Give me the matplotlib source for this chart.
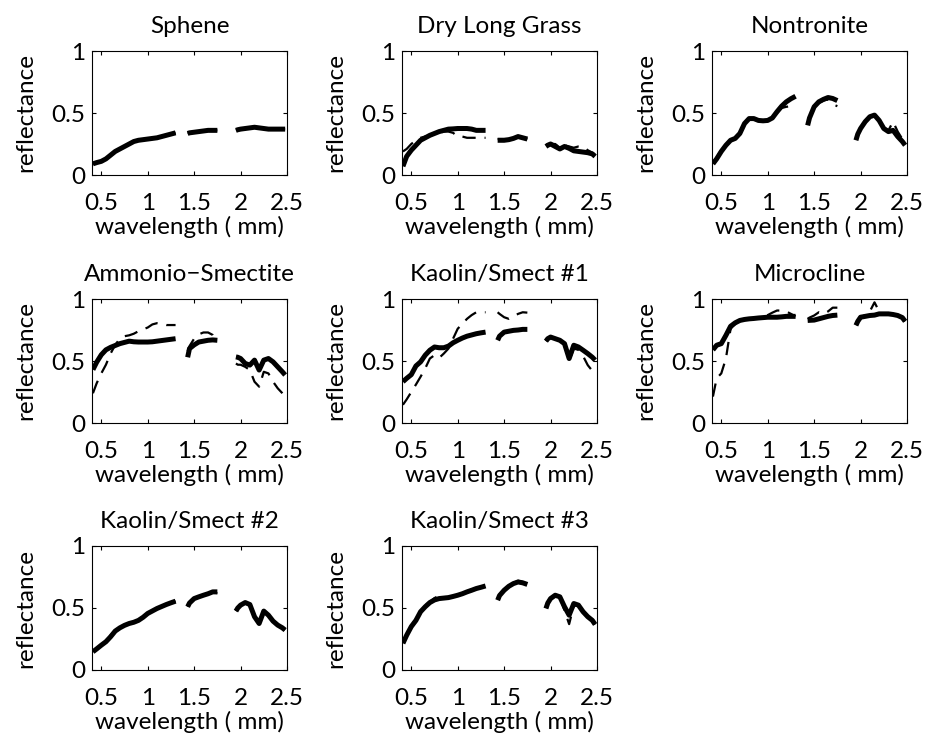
import numpy as np
import matplotlib
matplotlib.use("Agg")
import matplotlib.pyplot as plt

plt.rcParams['font.family'] = ['Lato', 'DejaVu Sans']

nan = np.nan
# wavelength grid (um), nan marks the water-band gaps
wl = [0.41, 0.45, 0.50, 0.55, 0.60, 0.65, 0.70, 0.75, 0.80, 0.85, 0.90, 0.95, 1.00, 1.05, 1.10, 1.15, 1.20, 1.25, 1.30, 1.33, nan,
      1.43, 1.45, 1.50, 1.55, 1.60, 1.65, 1.70, 1.75, nan,
      1.95, 1.97, 2.00, 2.05, 2.10, 2.15, 2.20, 2.25, 2.30, 2.35, 2.40, 2.45, 2.48]

names = ["Sphene", "Dry Long Grass", "Nontronite", "Ammonio\u2212Smectite",
         "Kaolin/Smect #1", "Microcline", "Kaolin/Smect #2", "Kaolin/Smect #3"]

sphene_true = [0.09, 0.10, 0.11, 0.13, 0.16, 0.19, 0.21, 0.23, 0.25, 0.27, 0.28, 0.285, 0.29, 0.295, 0.30, 0.31, 0.32, 0.33, 0.34, nan, nan,
               0.335, 0.34, 0.345, 0.35, 0.355, 0.36, 0.36, 0.36, nan,
               0.36, 0.365, 0.37, 0.375, 0.38, 0.385, 0.38, 0.375, 0.37, 0.37, 0.37, 0.37, 0.37]
sphene_est = [0.09, 0.10, 0.11, 0.13, 0.16, 0.19, 0.21, 0.23, 0.25, 0.27, 0.28, 0.285, 0.29, 0.295, 0.30, 0.31, 0.32, 0.33, 0.34, nan, nan,
              0.335, 0.34, 0.345, 0.35, 0.355, 0.36, 0.36, 0.36, nan,
              0.36, 0.365, 0.37, 0.375, 0.38, 0.385, 0.38, 0.375, 0.37, 0.37, 0.37, 0.37, 0.37]

grass_true = [0.07, 0.15, 0.20, 0.24, 0.28, 0.30, 0.32, 0.335, 0.35, 0.36, 0.37, 0.372, 0.375, 0.375, 0.375, 0.37, 0.36, 0.36, 0.36, nan, nan,
              0.28, 0.28, 0.28, 0.285, 0.295, 0.31, 0.30, 0.29, nan,
              0.23, 0.24, 0.25, 0.23, 0.21, 0.23, 0.215, 0.195, 0.19, 0.185, 0.18, 0.17, 0.15]
grass_est = [0.19, 0.21, 0.25, 0.28, 0.30, 0.31, 0.32, 0.33, 0.34, 0.35, 0.35, 0.34, 0.31, 0.31, 0.30, 0.30, 0.30, 0.30, 0.30, nan, nan,
             0.29, 0.29, 0.29, 0.29, 0.30, 0.31, 0.30, 0.29, nan,
             0.24, 0.25, 0.25, 0.25, 0.22, 0.24, 0.23, 0.22, 0.23, 0.23, 0.20, 0.18, 0.16]

nontr_true = [0.09, 0.13, 0.19, 0.24, 0.28, 0.295, 0.335, 0.415, 0.455, 0.455, 0.44, 0.437, 0.44, 0.46, 0.51, 0.555, 0.59, 0.615, 0.635, nan, nan,
              0.40, 0.46, 0.55, 0.59, 0.61, 0.625, 0.617, 0.60, nan,
              0.28, 0.33, 0.375, 0.43, 0.47, 0.483, 0.44, 0.375, 0.35, 0.36, 0.31, 0.27, 0.24]
nontr_est = [0.10, 0.14, 0.20, 0.24, 0.28, 0.30, 0.34, 0.42, 0.455, 0.45, 0.44, 0.437, 0.44, 0.46, 0.50, 0.54, 0.55, 0.555, 0.56, nan, nan,
             0.41, 0.47, 0.55, 0.58, 0.60, 0.61, 0.57, 0.555, nan,
             0.29, 0.33, 0.375, 0.43, 0.47, 0.48, 0.44, 0.38, 0.36, 0.43, 0.35, 0.29, 0.25]

ammon_true = [0.43, 0.49, 0.55, 0.59, 0.61, 0.625, 0.64, 0.65, 0.66, 0.655, 0.653, 0.653, 0.653, 0.655, 0.66, 0.665, 0.67, 0.675, 0.68, nan, nan,
              0.53, 0.60, 0.63, 0.653, 0.66, 0.667, 0.67, 0.667, nan,
              0.533, 0.53, 0.52, 0.48, 0.467, 0.507, 0.427, 0.507, 0.52, 0.493, 0.453, 0.413, 0.387]
ammon_est = [0.24, 0.32, 0.40, 0.47, 0.56, 0.63, 0.68, 0.70, 0.707, 0.72, 0.74, 0.755, 0.77, 0.795, 0.805, 0.80, 0.79, 0.79, 0.79, nan, nan,
             0.58, 0.62, 0.68, 0.715, 0.73, 0.73, 0.71, 0.65, nan,
             0.48, 0.47, 0.47, 0.453, 0.427, 0.333, 0.293, 0.413, 0.40, 0.333, 0.28, 0.24, 0.213]

kao1_true = [0.333, 0.36, 0.39, 0.46, 0.493, 0.547, 0.587, 0.613, 0.607, 0.607, 0.62, 0.647, 0.667, 0.685, 0.70, 0.71, 0.72, 0.727, 0.733, nan, nan,
             0.667, 0.70, 0.733, 0.74, 0.747, 0.75, 0.755, 0.755, nan,
             0.66, 0.68, 0.693, 0.68, 0.667, 0.64, 0.52, 0.627, 0.613, 0.587, 0.56, 0.53, 0.507]
kao1_est = [0.147, 0.19, 0.25, 0.31, 0.373, 0.44, 0.52, 0.547, 0.525, 0.56, 0.60, 0.68, 0.76, 0.80, 0.84, 0.87, 0.893, 0.893, 0.893, nan, nan,
            0.893, 0.88, 0.853, 0.84, 0.86, 0.88, 0.893, 0.89, nan,
            0.66, 0.68, 0.69, 0.68, 0.66, 0.63, 0.50, 0.60, 0.59, 0.54, 0.467, 0.42, 0.373]

micro_true = [0.59, 0.627, 0.64, 0.707, 0.78, 0.808, 0.827, 0.835, 0.84, 0.843, 0.847, 0.85, 0.853, 0.853, 0.853, 0.856, 0.86, 0.86, 0.86, nan, nan,
              0.827, 0.828, 0.83, 0.84, 0.85, 0.86, 0.867, 0.87, nan,
              0.787, 0.82, 0.853, 0.86, 0.867, 0.87, 0.88, 0.88, 0.88, 0.875, 0.867, 0.85, 0.82]
micro_est = [0.213, 0.36, 0.40, 0.52, 0.76, 0.80, 0.82, 0.83, 0.84, 0.845, 0.85, 0.86, 0.87, 0.89, 0.907, 0.907, 0.90, 0.88, 0.86, nan, nan,
             0.84, 0.85, 0.867, 0.893, 0.88, 0.90, 0.93, 0.93, nan,
             0.79, 0.82, 0.85, 0.87, 0.90, 0.973, 0.90, 0.88, 0.88, 0.875, 0.867, 0.85, 0.82]

kao2_true = [0.147, 0.17, 0.20, 0.228, 0.268, 0.314, 0.34, 0.36, 0.375, 0.385, 0.40, 0.425, 0.456, 0.476, 0.496, 0.512, 0.528, 0.542, 0.555, nan, nan,
             0.51, 0.54, 0.576, 0.59, 0.603, 0.615, 0.63, 0.63, nan,
             0.475, 0.50, 0.523, 0.544, 0.528, 0.43, 0.375, 0.475, 0.442, 0.394, 0.362, 0.34, 0.322]
kao2_est = [0.15, 0.17, 0.20, 0.23, 0.28, 0.32, 0.345, 0.36, 0.375, 0.385, 0.40, 0.425, 0.456, 0.476, 0.496, 0.512, 0.528, 0.542, 0.555, nan, nan,
            0.51, 0.54, 0.576, 0.59, 0.603, 0.615, 0.625, 0.62, nan,
            0.475, 0.50, 0.523, 0.544, 0.528, 0.43, 0.38, 0.475, 0.442, 0.394, 0.362, 0.34, 0.322]

kao3_true = [0.215, 0.28, 0.35, 0.40, 0.47, 0.51, 0.544, 0.565, 0.576, 0.58, 0.584, 0.593, 0.603, 0.615, 0.63, 0.643, 0.657, 0.667, 0.678, nan, nan,
             0.563, 0.60, 0.643, 0.675, 0.697, 0.71, 0.703, 0.69, nan,
             0.496, 0.54, 0.576, 0.603, 0.59, 0.51, 0.442, 0.536, 0.523, 0.47, 0.43, 0.40, 0.367]
kao3_est = [0.22, 0.29, 0.36, 0.41, 0.47, 0.52, 0.55, 0.58, 0.60, 0.59, 0.584, 0.595, 0.605, 0.62, 0.635, 0.65, 0.66, 0.67, 0.678, nan, nan,
            0.57, 0.61, 0.65, 0.68, 0.70, 0.72, 0.71, 0.69, nan,
            0.50, 0.54, 0.576, 0.603, 0.59, 0.48, 0.37, 0.52, 0.52, 0.47, 0.43, 0.40, 0.367]

true_spectra = [sphene_true, grass_true, nontr_true, ammon_true, kao1_true, micro_true, kao2_true, kao3_true]
est_spectra = [sphene_est, grass_est, nontr_est, ammon_est, kao1_est, micro_est, kao2_est, kao3_est]

fig = plt.figure(figsize=(9.27, 7.42), dpi=100)
lefts = [92, 402, 712]
bottoms = [175, 423, 670]
W, H = 927., 742.
fs = 17.5

for i, name in enumerate(names):
  r, c = i // 3, i % 3
  ax = fig.add_axes([lefts[c]/W, 1 - bottoms[r]/H, 195/W, 124/H])
  ax.plot(wl, true_spectra[i], color='k', lw=3.6, solid_capstyle='butt')
  ax.plot(wl, est_spectra[i], color='k', lw=1.6, linestyle=(0, (6, 4)))
  ax.set_xlim(0.4, 2.5)
  ax.set_ylim(0, 1)
  ax.set_xticks([0.5, 1, 1.5, 2, 2.5])
  ax.set_xticklabels(["0.5", "1", "1.5", "2", "2.5"])
  ax.set_yticks([0, 0.5, 1])
  ax.set_yticklabels(["0", "0.5", "1"])
  ax.tick_params(direction='in', length=3, width=0.8, top=True, right=True, labelsize=fs)
  ax.tick_params(axis='x', pad=13)
  ax.tick_params(axis='y', pad=5)
  for s in ax.spines.values():
    s.set_linewidth(0.8)
  ax.set_title(name, fontsize=fs, pad=13)
  ax.set_xlabel("wavelength ( mm)", fontsize=fs, labelpad=1)
  ax.set_ylabel("reflectance", fontsize=fs, labelpad=11)

plt.savefig("out.png", dpi=100)
